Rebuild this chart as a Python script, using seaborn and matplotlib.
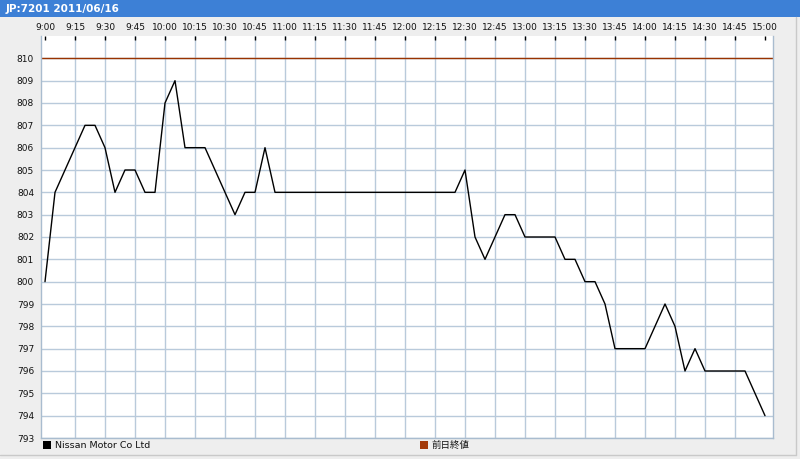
import numpy as np
import pandas as pd
import matplotlib
matplotlib.use("Agg")
import matplotlib.pyplot as plt
from matplotlib.patches import Rectangle
from matplotlib.lines import Line2D
import seaborn as sns

# ---------------- data ----------------
title = "JP:7201 2011/06/16"
series_name = "Nissan Motor Co Ltd"
ref_name = "前日終値"
prev_close = 810
start_time = "09:00"
end_time = "15:00"
step = "5min"
prices = [
    800, 804, 805, 806, 807, 807, 806, 804, 805, 805, 804, 804,   # 9:00 - 9:55
    808, 809, 806, 806, 806, 805, 804, 803, 804, 804, 806, 804,   # 10:00 - 10:55
    804, 804, 804, 804, 804, 804, 804, 804, 804, 804, 804, 804,   # 11:00 - 11:55
    804, 804, 804, 804, 804, 804, 805, 802, 801, 802, 803, 803,   # 12:00 - 12:55
    802, 802, 802, 802, 801, 801, 800, 800, 799, 797, 797, 797,   # 13:00 - 13:55
    797, 798, 799, 798, 796, 797, 796, 796, 796, 796, 796, 795,   # 14:00 - 14:55
    794,                                                          # 15:00
]
tick_labels = ["9:00", "9:15", "9:30", "9:45", "10:00", "10:15", "10:30", "10:45",
               "11:00", "11:15", "11:30", "11:45", "12:00", "12:15", "12:30", "12:45",
               "13:00", "13:15", "13:30", "13:45", "14:00", "14:15", "14:30", "14:45", "15:00"]
y_ticks = list(range(793, 811))

# ---------------- build frame ----------------
times = pd.date_range(f"2011-06-16 {start_time}", f"2011-06-16 {end_time}", freq=step)
minutes = (times - times[0]).total_seconds() / 60.0
df = pd.DataFrame({"minute": minutes, "price": prices})
tick_pos = [(pd.Timestamp(f"2011-06-16 {t}") - times[0]).total_seconds() / 60.0 for t in tick_labels]

sns.set_style("white")
plt.rcParams["font.family"] = ["DejaVu Sans", "Noto Sans CJK JP"]

W, H = 800, 459
fig = plt.figure(figsize=(W / 100, H / 100), dpi=100)
fig.patch.set_facecolor("#eeeeee")

# title bar
fig.patches.append(Rectangle((0, 1 - 17 / H), 1, 17 / H, transform=fig.transFigure,
                             facecolor="#3d80d6", edgecolor="none", zorder=0))
fig.text(6 / W, 1 - 8.5 / H, title, color="white", fontsize=7.5, fontweight="bold",
         va="center", ha="left")

# outer frame lines
fig.add_artist(Line2D([796 / W, 796 / W], [4 / H, 1 - 17 / H], transform=fig.transFigure,
                      color="#c9c9c9", lw=1))
fig.add_artist(Line2D([0, 796 / W], [4 / H, 4 / H], transform=fig.transFigure,
                      color="#c9c9c9", lw=1))

ax = fig.add_axes([41 / W, 21 / H, 732 / W, 402 / H])
ax.set_facecolor("white")

grid_col = "#b9cadb"
sns.lineplot(data=df, x="minute", y="price", ax=ax, color="black", linewidth=1.0,
             zorder=3, legend=False)
ax.axhline(prev_close, color="#993300", linewidth=1.0, zorder=2)

ax.set_xlim(-2, 364)
ax.set_ylim(793, 811)

ax.xaxis.tick_top()
ax.set_xticks(tick_pos)
ax.set_xticklabels(tick_labels)
ax.set_yticks(y_ticks)
ax.set_yticklabels([str(v) for v in y_ticks])

ax.tick_params(axis="x", which="major", direction="in", length=3, width=1, color="black",
               labelsize=6.5, pad=3, labelcolor="#111111", top=True, bottom=False)
ax.tick_params(axis="y", length=0, labelsize=6.5, pad=5, labelcolor="#111111")

ax.grid(False)
ax.yaxis.grid(True, which="major", color=grid_col, linewidth=1.0)
for xp in tick_pos[1:-1]:
    ax.axvline(xp, color=grid_col, linewidth=1.0, zorder=0.5)
ax.set_axisbelow(True)
ax.set_xlabel("")
ax.set_ylabel("")

for side in ["left", "bottom", "right"]:
    ax.spines[side].set_color("#a9bccf")
    ax.spines[side].set_linewidth(1.0)
ax.spines["top"].set_visible(False)

# legend row (bottom)
def legend_item(x_px, color, label):
    fig.patches.append(Rectangle((x_px / W, (H - 449) / H), 8 / W, 8 / H,
                                 transform=fig.transFigure, facecolor=color,
                                 edgecolor="none"))
    fig.text((x_px + 12) / W, (H - 445.5) / H, label, fontsize=6.8, va="center",
             ha="left", color="#111111")

legend_item(43, "black", series_name)
legend_item(420, "#a33a0a", ref_name)

fig.savefig("out.png", dpi=100, facecolor=fig.get_facecolor())
